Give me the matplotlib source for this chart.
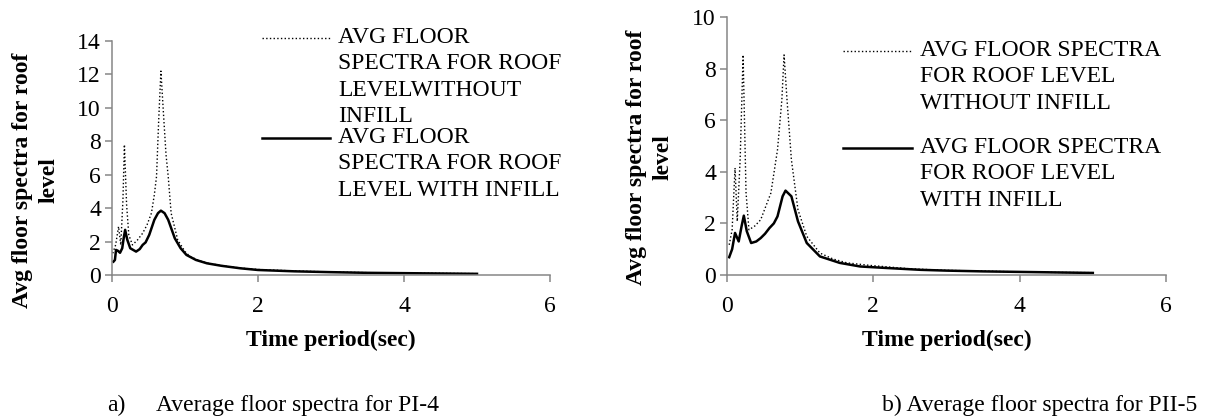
import matplotlib
matplotlib.use("Agg")
import matplotlib.pyplot as plt
from matplotlib.lines import Line2D

plt.rcParams['font.family'] = ['Liberation Serif', 'DejaVu Serif']

# PI-4: without infill (dotted)
t_a_without = [0.01, 0.05, 0.09, 0.12, 0.15, 0.17, 0.20, 0.23, 0.28, 0.35, 0.42, 0.48, 0.54,
               0.58, 0.61, 0.64, 0.67, 0.71, 0.74, 0.77, 0.81, 0.90, 1.00, 1.07, 1.20, 1.30,
               1.45, 1.60, 1.80, 2.00, 2.50, 3.00, 3.50, 4.00, 4.50, 5.00]
sa_a_without = [1.3, 1.8, 2.9, 1.8, 4.5, 7.8, 4.2, 2.4, 1.8, 2.1, 2.5, 3.0, 3.7,
                4.8, 5.9, 9.3, 12.2, 9.3, 7.2, 5.9, 3.7, 2.1, 1.4, 1.1, 0.85, 0.72,
                0.6, 0.5, 0.4, 0.33, 0.24, 0.18, 0.14, 0.12, 0.10, 0.08]

# PI-4: with infill (solid)
t_a_with = [0.02, 0.04, 0.055, 0.08, 0.11, 0.14, 0.16, 0.18, 0.21, 0.25, 0.33, 0.38, 0.42,
            0.46, 0.51, 0.58, 0.63, 0.67, 0.72, 0.77, 0.86, 0.94, 1.02, 1.15, 1.30, 1.50,
            1.76, 2.00, 2.50, 3.00, 3.50, 4.00, 4.50, 5.00]
sa_a_with = [0.8, 0.9, 1.5, 1.45, 1.33, 1.6, 2.2, 2.7, 2.1, 1.6, 1.4, 1.55, 1.8,
             1.95, 2.4, 3.3, 3.7, 3.85, 3.7, 3.3, 2.2, 1.6, 1.2, 0.9, 0.7, 0.55,
             0.4, 0.3, 0.22, 0.17, 0.13, 0.11, 0.09, 0.07]

# PII-5: without infill (dotted)
t_b_without = [0.03, 0.07, 0.11, 0.14, 0.18, 0.22, 0.26, 0.30, 0.38, 0.46, 0.60, 0.69, 0.75,
               0.78, 0.82, 0.88, 0.97, 1.09, 1.27, 1.45, 1.64, 1.96, 2.50, 3.00, 3.50,
               4.00, 4.50, 5.00]
sa_b_without = [1.17, 1.75, 4.15, 2.08, 4.5, 8.53, 3.2, 1.75, 1.9, 2.14, 3.18, 4.85, 6.8,
                8.53, 6.8, 4.47, 2.53, 1.5, 0.85, 0.62, 0.47, 0.37, 0.24, 0.18, 0.15,
                0.12, 0.10, 0.09]

# PII-5: with infill (solid)
t_b_with = [0.03, 0.07, 0.11, 0.16, 0.20, 0.23, 0.27, 0.33, 0.40, 0.46, 0.52, 0.58, 0.64,
            0.69, 0.76, 0.80, 0.88, 0.97, 1.09, 1.27, 1.54, 1.82, 2.19, 2.65, 3.00,
            3.50, 4.00, 4.50, 5.00]
sa_b_with = [0.69, 1.0, 1.63, 1.3, 1.9, 2.3, 1.7, 1.24, 1.3, 1.43, 1.6, 1.82, 2.0,
             2.27, 3.05, 3.27, 3.05, 2.08, 1.24, 0.72, 0.47, 0.33, 0.27, 0.2, 0.17,
             0.14, 0.12, 0.10, 0.08]

x_ticks = [0, 2, 4, 6]
y_ticks_a = [0, 2, 4, 6, 8, 10, 12, 14]
y_ticks_b = [0, 2, 4, 6, 8, 10]

label_without_a = "AVG FLOOR\nSPECTRA FOR ROOF\nLEVELWITHOUT\nINFILL"
label_with_a = "AVG FLOOR\nSPECTRA FOR ROOF\nLEVEL WITH INFILL"
label_without_b = "AVG FLOOR SPECTRA\nFOR ROOF LEVEL\nWITHOUT INFILL"
label_with_b = "AVG FLOOR SPECTRA\nFOR ROOF LEVEL\nWITH INFILL"

W, H = 1209, 417
FS = 17
GREY = '#868686'
LSP = 1.33

fig = plt.figure(figsize=(W / 100, H / 100), dpi=100)


def px(x, y):
    # pixel (from top-left) -> figure fraction
    return x / W, 1 - y / H


def style_axes(ax, yticks):
    ax.set_xlim(0, 6)
    ax.set_ylim(0, yticks[-1])
    ax.set_xticks(x_ticks)
    ax.set_yticks(yticks)
    for s in ['top', 'right']:
        ax.spines[s].set_visible(False)
    for s in ['left', 'bottom']:
        ax.spines[s].set_color(GREY)
        ax.spines[s].set_linewidth(1.1)
    ax.tick_params(axis='both', colors=GREY, labelcolor='black', labelsize=17,
                   length=5, width=1.1, direction='out')
    ax.tick_params(axis='x', pad=10)
    ax.tick_params(axis='y', pad=3)
    ax.set_xlabel('Time period(sec)', fontsize=FS, fontweight='bold', labelpad=9)


def legend_entry(x0, x1, xt, y, label, ls, lw):
    fx0, fy = px(x0, y)
    fx1, _ = px(x1, y)
    fig.add_artist(Line2D([fx0, fx1], [fy, fy], color='black', linestyle=ls,
                          linewidth=lw, transform=fig.transFigure))
    ftx, fty = px(xt, y - 11)
    fig.text(ftx, fty, label, fontsize=FS, ha='left', va='top', linespacing=LSP)


# left panel
ax1 = fig.add_axes([112 / W, 1 - 275 / H, 438 / W, 234 / H])
ax1.plot(t_a_without, sa_a_without, color='black', linestyle=':', linewidth=1.0)
ax1.plot(t_a_with, sa_a_with, color='black', linestyle='-', linewidth=1.8)
style_axes(ax1, y_ticks_a)
fig.text(*px(36, 180), 'Avg floor spectra for roof\nlevel', rotation=90, fontsize=FS,
         fontweight='bold', ha='center', va='center', linespacing=LSP)
legend_entry(262, 330, 338, 38, label_without_a, ':', 1.0)
legend_entry(262, 330, 338, 138, label_with_a, '-', 1.8)
fig.text(*px(107, 405), 'a)', fontsize=FS, ha='left', va='center')
fig.text(*px(156, 405), 'Average floor spectra for PI-4', fontsize=FS, ha='left', va='center')

# right panel
ax2 = fig.add_axes([727 / W, 1 - 275 / H, 439 / W, 258 / H])
ax2.plot(t_b_without, sa_b_without, color='black', linestyle=':', linewidth=1.0)
ax2.plot(t_b_with, sa_b_with, color='black', linestyle='-', linewidth=1.8)
style_axes(ax2, y_ticks_b)
fig.text(*px(650, 157), 'Avg floor spectra for roof\nlevel', rotation=90, fontsize=FS,
         fontweight='bold', ha='center', va='center', linespacing=LSP)
legend_entry(843, 912, 920, 51, label_without_b, ':', 1.0)
legend_entry(843, 912, 920, 148, label_with_b, '-', 1.8)
fig.text(*px(882, 405), 'b) Average floor spectra for PII-5', fontsize=FS, ha='left', va='center')

fig.savefig('out.png', dpi=100)
